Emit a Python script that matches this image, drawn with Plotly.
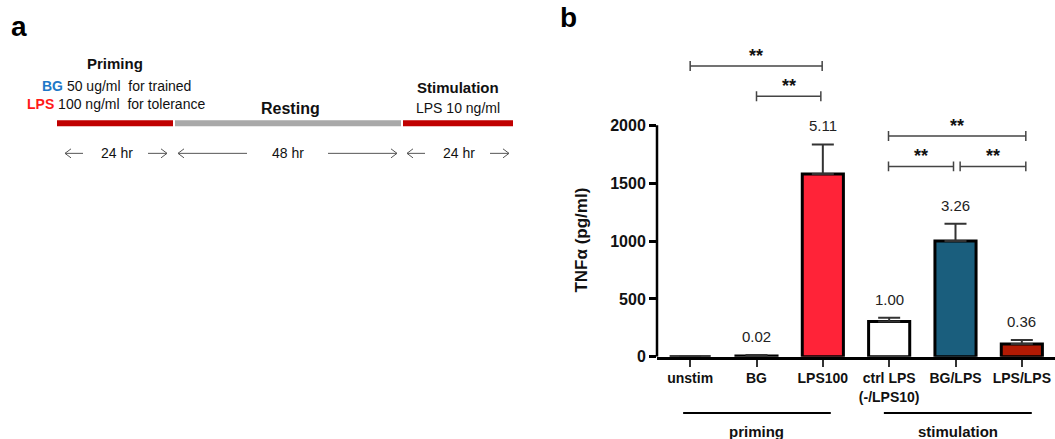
import plotly.graph_objects as go

# ---------------- data ----------------
categories = ["unstim", "BG", "LPS100", "ctrl LPS<br>(-/LPS10)", "BG/LPS", "LPS/LPS"]
tnf_mean = [0, 6, 1580, 305, 1000, 110]
tnf_err = [0, 10, 255, 33, 150, 35]
fold_labels = ["", "0.02", "5.11", "1.00", "3.26", "0.36"]
bar_colors = ["#ffffff", "#ffffff", "#ff2338", "#ffffff", "#1a5e7d", "#b31a03"]
y_ticks = [0, 500, 1000, 1500, 2000]

# significance brackets: (x_start, x_end, y_value, label)
brackets = [
    (0.0, 1.99, 2513, "**"),
    (1.0, 1.97, 2251, "**"),
    (2.99, 5.06, 1907, "**"),
    (2.99, 3.97, 1645, "**"),
    (4.07, 5.06, 1645, "**"),
]
groups = [(-0.106, 2.12, "priming"), (2.92, 5.15, "stimulation")]

W, H = 1055, 439          # reference picture size
HCSS = 449                # layout height (compensates vertical scaling of the capture)
K = HCSS / H
FONT = "Liberation Sans, Arial, sans-serif"


def px(x):
    return x / W


def py(y):
    return 1 - y / H


fig = go.Figure()
fig.add_trace(go.Bar(
    x=list(range(len(categories))),
    y=tnf_mean,
    width=0.62,
    marker=dict(color=bar_colors, line=dict(color="black", width=3)),
    error_y=dict(type="data", symmetric=False, array=tnf_err,
                 arrayminus=[0] * len(tnf_err), width=11, thickness=2,
                 color="#333333"),
    showlegend=False,
    hoverinfo="skip",
))

shapes = []
annotations = []


def ann(**kw):
    kw.setdefault("xanchor", "center")
    kw.setdefault("yanchor", "middle")
    kw.setdefault("showarrow", False)
    annotations.append(kw)


# fold-change labels above bars
for i, (m, e, lab) in enumerate(zip(tnf_mean, tnf_err, fold_labels)):
    if lab:
        ann(x=i, y=m + e, xref="x", yref="y", text=lab, yshift=18 * K,
            font=dict(size=15, color="#222", family=FONT))

# y axis line (0 .. 2000)
shapes.append(dict(type="line", xref="paper", yref="y", x0=px(657), x1=px(657),
                   y0=0, y1=max(y_ticks), line=dict(color="black", width=2.5)))

# significance brackets
tick_h = 43
for x0, x1, yv, lab in brackets:
    shapes.append(dict(type="line", xref="x", yref="y", x0=x0, x1=x1, y0=yv, y1=yv,
                       line=dict(color="#444", width=1.5)))
    for xx in (x0, x1):
        shapes.append(dict(type="line", xref="x", yref="y", x0=xx, x1=xx,
                           y0=yv - tick_h, y1=yv + tick_h,
                           line=dict(color="#444", width=1.5)))
    ann(x=(x0 + x1) / 2, y=yv, xref="x", yref="y", text="<b>" + lab + "</b>",
        yshift=10 * K, font=dict(size=18, color="#111", family=FONT))

# group lines under the x axis
for x0, x1, lab in groups:
    shapes.append(dict(type="line", xref="x", yref="paper", x0=x0, x1=x1,
                       y0=py(412), y1=py(412), line=dict(color="black", width=2)))
    ann(x=(x0 + x1) / 2, y=py(431), xref="x", yref="paper",
        text="<b>" + lab + "</b>", font=dict(size=15, color="#111", family=FONT))

# y-axis title
ann(x=px(582), y=py(240), xref="paper", yref="paper",
    text="<b>TNFα (pg/ml)</b>", textangle=-90,
    font=dict(size=17, color="#111", family=FONT))

# panel letters
ann(x=px(19), y=py(26), xref="paper", yref="paper", text="<b>a</b>",
    font=dict(size=28, color="black", family=FONT))
ann(x=px(568), y=py(17), xref="paper", yref="paper", text="<b>b</b>",
    font=dict(size=28, color="black", family=FONT))


# ---------------- panel a: timeline ----------------
def txt(x, y, t, size=14, bold=False, color="#111"):
    ann(x=px(x), y=py(y), xref="paper", yref="paper",
        text=("<b>%s</b>" % t) if bold else t,
        font=dict(size=size, color=color, family=FONT))


txt(115, 63, "Priming", 15, True)
txt(117, 86, "<b><span style='color:#1e78c8'>BG</span></b> 50 ug/ml \u00a0for trained", 14)
txt(116, 104, "<b><span style='color:#ff1a1a'>LPS</span></b> 100 ng/ml \u00a0for tolerance", 14)
txt(290, 108, "Resting", 16, True)
txt(458, 87, "Stimulation", 15, True)
txt(458, 108, "LPS 10 ng/ml", 14)

for x0, x1, col in [(57, 173, "#c00000"), (175, 401, "#a9a9a9"), (403, 513, "#c00000")]:
    shapes.append(dict(type="line", xref="paper", yref="paper", x0=px(x0), x1=px(x1),
                       y0=py(123), y1=py(123), line=dict(color=col, width=6)))

txt(116.5, 153, "24 hr", 14)
txt(287.5, 153, "48 hr", 14)
txt(458.5, 153, "24 hr", 14)

AY = 153
arrows = [(83, 65), (148, 167), (247, 178), (328, 397), (425, 407), (490, 509)]  # (tail, head)
for tail, head in arrows:
    shapes.append(dict(type="line", xref="paper", yref="paper", x0=px(tail), x1=px(head),
                       y0=py(AY), y1=py(AY), line=dict(color="#555", width=1)))
    d = 6 if head > tail else -6
    path = "M %f,%f L %f,%f L %f,%f" % (px(head - d), py(AY - 4.5), px(head), py(AY),
                                         px(head - d), py(AY + 4.5))
    shapes.append(dict(type="path", xref="paper", yref="paper", path=path,
                       line=dict(color="#555", width=1)))

fig.update_layout(
    width=W, height=HCSS,
    margin=dict(l=0, r=0, t=0, b=0),
    paper_bgcolor="white", plot_bgcolor="white",
    font=dict(family=FONT, color="#111"),
    xaxis=dict(domain=[px(657), 1.0], range=[-0.5, 5.5],
               tickvals=list(range(len(categories))), ticktext=categories,
               showline=True, linecolor="black", linewidth=2.5,
               ticks="outside", ticklen=7, tickwidth=2, tickcolor="#333",
               tickfont=dict(size=14, family=FONT, color="#111", weight="bold"),
               showgrid=False, zeroline=False, fixedrange=True),
    yaxis=dict(domain=[py(356), py(55.7)], range=[0, 2600],
               tickvals=y_ticks, ticks="outside", ticklen=7, tickwidth=2.5,
               tickcolor="black", showline=False, showgrid=False, zeroline=False,
               tickfont=dict(size=16, family=FONT, color="#111", weight="bold"),
               fixedrange=True),
    shapes=shapes,
    annotations=annotations,
)

fig.write_html("out.html", config={"displayModeBar": False},
               post_script="document.body.style.margin='0';document.body.style.overflow='hidden';")
